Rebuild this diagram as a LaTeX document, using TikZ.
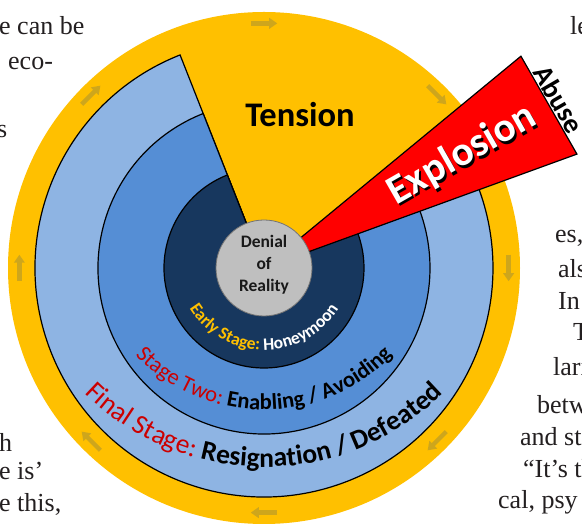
\documentclass[tikz,border=0pt]{standalone}
\usepackage{fontspec}
\setmainfont{Carlito}
\newfontfamily\bodyserif{Liberation Serif}
\usetikzlibrary{decorations.text,arrows.meta,calc}
\definecolor{ringgold}{HTML}{FFC000}
\definecolor{lightring}{HTML}{8EB4E3}
\definecolor{midring}{HTML}{558ED5}
\definecolor{navyring}{HTML}{17375E}
\definecolor{wedgered}{HTML}{FF0000}
\definecolor{centergray}{HTML}{BFBFBF}
\definecolor{arrowgold}{RGB}{206,166,28}
\definecolor{labelred}{HTML}{CC0000}
\definecolor{bodyink}{HTML}{231F20}
\newcommand\earlyfmt{\bfseries\fontsize{17.5}{19}\selectfont}
\newcommand\twofmt{\fontsize{22.5}{24}\selectfont}
\newcommand\finalfmt{\fontsize{27.5}{30}\selectfont}
\begin{document}
\begin{tikzpicture}[x=1pt,y=1pt,
  ringline/.style={draw=black,line width=1.2pt},
  cyclearrow/.style={draw=arrowgold,line width=4.3pt,-{Triangle[length=8pt,width=10.5pt]}},
  bodytext/.style={font=\bodyserif\fontsize{26}{30}\selectfont,text=bodyink,inner sep=0pt,anchor=base west},
  bigword/.style={font=\bfseries\fontsize{41}{44}\selectfont,inner sep=0pt},
]
\useasboundingbox (0,0) rectangle (582,527);
\fill[white] (0,0) rectangle (582,527);
\coordinate (C) at (264,259);
% outer yellow disk
\fill[ringgold] (C) circle[radius=256];
\foreach \a in {0,45,...,315} {
  \draw[cyclearrow] ([shift={(\a+3.1:245)}]C) -- ([shift={(\a-3.1:245)}]C);
}
% rings
\draw[ringline,fill=lightring] (C) -- ++(111.5:229) arc[start angle=111.5,end angle=390,radius=229] -- cycle;
\draw[ringline,fill=midring] (C) -- ++(111.5:166) arc[start angle=111.5,end angle=390,radius=166] -- cycle;
\draw[ringline,fill=navyring] (C) -- ++(111.5:100) arc[start angle=111.5,end angle=390,radius=100] -- cycle;
% explosion wedge
\draw[ringline,fill=wedgered,line join=miter] (C) -- ([shift={(20:333)}]C) coordinate (P2) -- ([shift={(39.5:333)}]C) coordinate (P1) -- cycle;
% center
\node[circle,fill=centergray,draw=black!55,line width=0.8pt,minimum size=96pt,inner sep=0pt] (core) at (C) {};
\node[font=\bfseries\fontsize{17.5}{22}\selectfont,align=center,text=black!90] (denial) at ([yshift=3]C) {Denial\\of\\Reality};
% labels
\node[font=\bfseries\fontsize{34.5}{40}\selectfont] (tension) at (300,412) {Tension};
\node[bigword,text=black,rotate=29.75] (explshadow) at ([shift={(29.75:228)},xshift=2,yshift=-2.5]C) {Explosion};
\node[bigword,text=white,rotate=29.75] (explosion) at ([shift={(29.75:228)}]C) {Explosion};
\node[font=\bfseries\fontsize{28}{30}\selectfont,rotate=-60,anchor=south,inner sep=1.5pt] (abuse) at ($(P1)!0.5!(P2)$) {Abuse};
% curved stage labels
\path[decorate,decoration={text along path,text align=center,
  text={|\earlyfmt\color{ringgold}|Early Stage: |\earlyfmt\color{white}|Honeymoon}}]
  ([shift={(190:88)}]264,265) arc[start angle=190,end angle=350,radius=88];
\path[decorate,decoration={text along path,text align=center,
  text={|\twofmt\color{labelred}|Stage Two: |\twofmt\bfseries\color{black}|Enabling / Avoiding}}]
  ([shift={(200:178.5)}]264,295.7) arc[start angle=200,end angle=340,radius=178.5];
\path[decorate,decoration={text along path,text align=center,
  text={|\finalfmt\color{labelred}|Final Stage: |\finalfmt\bfseries\color{black}|Resignation / Defeated}}]
  ([shift={(205:255)}]264,315) arc[start angle=205,end angle=335,radius=255];
% surrounding body text fragments
\node[bodytext] (t1) at (-1,492) {e can be};
\node[bodytext] (t2) at (8,457) {eco-};
\node[bodytext] (t3) at (-3,389) {s};
\node[bodytext] (t4) at (-1,75) {h};
\node[bodytext] (t5) at (-1,47) {e is’};
\node[bodytext] (t6) at (-1,15) {e this,};
\node[bodytext] (r1) at (570,492) {le};
\node[bodytext] (r2) at (555,284) {es,};
\node[bodytext] (r3) at (558,249) {als};
\node[bodytext] (r4) at (558,217) {In};
\node[bodytext] (r5) at (573,186) {T};
\node[bodytext] (r6) at (553,151) {lari};
\node[bodytext] (r7) at (537,113) {betw};
\node[bodytext] (r8) at (520,81) {and st};
\node[bodytext] (r9) at (523,49) {“It’s th};
\node[bodytext] (r10) at (498,18) {cal, psy};
\end{tikzpicture}
\end{document}
